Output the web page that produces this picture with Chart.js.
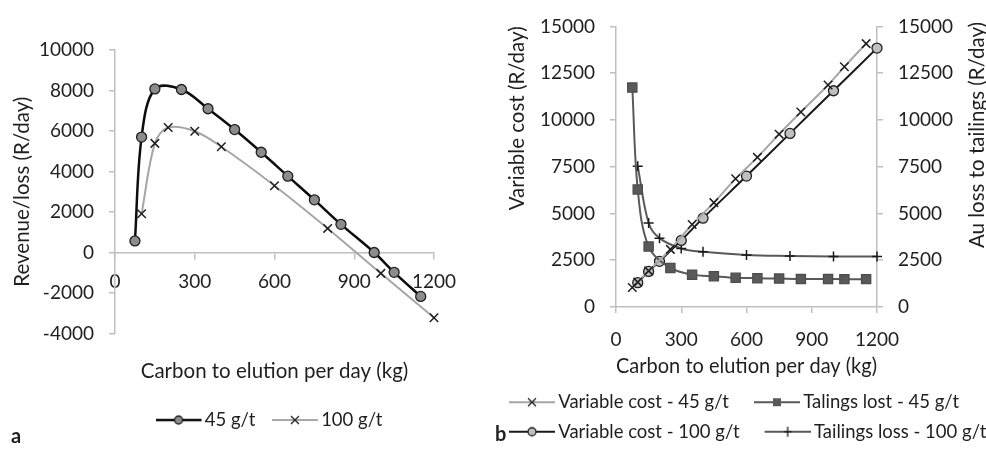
<!DOCTYPE html>
<html>
<head>
<meta charset="utf-8">
<script src="https://cdn.jsdelivr.net/npm/chart.js@4/dist/chart.umd.min.js"></script>
<style>
  body { margin: 0; width: 986px; height: 451px; overflow: hidden; background: #fff; position: relative; }
  canvas { position: absolute; top: 0; }
  #chartA { left: 0; }
  #chartB { left: 484px; }
  .panel { position: absolute; font: bold 20px Lato, sans-serif; color: #1f1f1f; }
</style>
</head>
<body>
<canvas id="chartA" width="480" height="451"></canvas>
<canvas id="chartB" width="560" height="451"></canvas>
<div class="panel" style="left:11px; top:423px">a</div>
<div class="panel" style="left:495px; top:421px">b</div>
<script>
// x values (kg carbon to elution per day)
const kg45 = [75, 100, 150, 250, 350, 450, 550, 650, 750, 850, 975, 1050, 1150];
const kg100 = [100, 150, 200, 300, 400, 600, 800, 1000, 1200];

// panel a - revenue/loss (R/day)
const revenue45 = [570, 5700, 8080, 8050, 7100, 6070, 4950, 3770, 2600, 1390, 0, -980, -2170];
const revenue100 = [1910, 5390, 6170, 5990, 5220, 3300, 1190, -1030, -3220];

// panel b - variable cost and tailings losses (R/day)
const varCost45 = [1040, 1330, 1930, 3080, 4410, 5580, 6860, 8000, 9240, 10420, 11870, 12840, 14080];
const tailings45 = [11730, 6280, 3230, 2090, 1730, 1640, 1560, 1540, 1520, 1500, 1500, 1490, 1490];
const varCost100 = [1300, 1900, 2440, 3560, 4750, 7000, 9280, 11560, 13840];
const tailings100 = [7520, 4490, 3680, 3130, 2950, 2780, 2730, 2700, 2700];

// tick labels
const xTicks = [0, 300, 600, 900, 1200];
const yTicksA = [-4000, -2000, 0, 2000, 4000, 6000, 8000, 10000];
const yTicksB = [0, 2500, 5000, 7500, 10000, 12500, 15000];

const ink = '#1f1f1f';
const axisGray = '#bfbfbf';
const titleFont = { size: 20.5, weight: 'normal' };
const legendFont = { size: 18.5 };
Chart.defaults.font.family = 'Lato';
Chart.defaults.font.size = 19;
Chart.defaults.color = ink;

function pts(xs, ys) {
    return xs.map((x, i) => ({ x: x, y: ys[i] }));
}

function useTicks(list) {
    return scale => { scale.ticks = list.map(v => ({ value: v })); };
}

// line + marker sample for the legend
function swatch(width, x0, s) {
    const c = document.createElement('canvas');
    c.width = width;
    c.height = 16;
    const ctx = c.getContext('2d');
    const cx = x0 + 23, cy = 8;
    ctx.strokeStyle = s.line;
    ctx.lineWidth = s.lineWidth;
    ctx.beginPath();
    ctx.moveTo(x0, cy);
    ctx.lineTo(x0 + 46, cy);
    ctx.stroke();
    ctx.fillStyle = s.fill;
    ctx.strokeStyle = s.marker;
    ctx.lineWidth = 1.3;
    ctx.beginPath();
    if (s.style === 'circle') {
        ctx.arc(cx, cy, 4, 0, Math.PI * 2);
        ctx.fill();
        ctx.stroke();
    } else if (s.style === 'rect') {
        ctx.fillStyle = s.marker;
        ctx.fillRect(cx - 4, cy - 4, 8, 8);
    } else if (s.style === 'crossRot') {
        ctx.moveTo(cx - 4, cy - 4); ctx.lineTo(cx + 4, cy + 4);
        ctx.moveTo(cx - 4, cy + 4); ctx.lineTo(cx + 4, cy - 4);
        ctx.stroke();
    } else {
        ctx.moveTo(cx - 4, cy); ctx.lineTo(cx + 4, cy);
        ctx.moveTo(cx, cy - 5); ctx.lineTo(cx, cy + 5);
        ctx.stroke();
    }
    return c;
}

function legendItems(width, x0) {
    return chart => chart.data.datasets.map((ds, i) => ({
        text: ds.label,
        datasetIndex: i,
        pointStyle: swatch(width, x0, ds.sample),
        fillStyle: 'rgba(0,0,0,0)',
        strokeStyle: 'rgba(0,0,0,0)',
        lineWidth: 0,
        fontColor: ink,
        hidden: false
    }));
}

const axisBase = {
    type: 'linear',
    grid: { drawOnChartArea: false, color: axisGray, lineWidth: 1.5, tickLength: 6 },
    border: { color: axisGray, width: 1.5 },
    ticks: { callback: v => String(v) }
};

function line(label, xs, ys, o) {
    return Object.assign({
        label: label,
        data: pts(xs, ys),
        tension: 0.35,
        clip: false,
        borderWidth: 2,
        pointBorderWidth: 1.3,
        pointRadius: 5,
        pointHoverRadius: 5
    }, o);
}

// ---------- panel a ----------
new Chart(document.getElementById('chartA'), {
    type: 'line',
    data: {
        datasets: [
            line('45 g/t', kg45, revenue45, {
                borderColor: '#0d0d0d', borderWidth: 2.5,
                pointStyle: 'circle', pointBackgroundColor: '#8c8c8c', pointBorderColor: ink,
                sample: { line: '#0d0d0d', lineWidth: 2.5, style: 'circle', fill: '#8c8c8c', marker: ink }
            }),
            line('100 g/t', kg100, revenue100, {
                borderColor: '#a6a6a6',
                pointStyle: 'crossRot', pointRadius: 6, pointBorderColor: ink, pointBorderWidth: 1.5,
                sample: { line: '#a6a6a6', lineWidth: 2, style: 'crossRot', fill: ink, marker: ink }
            })
        ]
    },
    options: {
        responsive: false,
        animation: false,
        devicePixelRatio: 1,
        layout: { padding: { left: 0, right: 46, top: 50, bottom: 11.7 } },
        scales: {
            x: Object.assign({}, axisBase, {
                position: { y: 0 },
                min: 0, max: 1200,
                afterBuildTicks: useTicks(xTicks),
                afterFit: s => { s.height = 0; },
                ticks: { padding: 12.4, callback: v => String(v) }
            }),
            y: Object.assign({}, axisBase, {
                min: -4000, max: 10000,
                afterBuildTicks: useTicks(yTicksA),
                afterFit: s => { s.width = 115; },
                ticks: { padding: 15, callback: v => String(v) },
                title: { display: true, text: 'Revenue/loss (R/day)', font: titleFont, padding: { top: 9.7, bottom: 0 } }
            })
        },
        plugins: {
            tooltip: { enabled: false },
            title: {
                display: true,
                text: 'Carbon to elution per day (kg)',
                position: 'bottom',
                fullSize: false,
                weight: 500,
                color: ink,
                font: titleFont,
                padding: { top: 25.2, bottom: 0 }
            },
            legend: {
                position: 'bottom',
                fullSize: false,
                labels: {
                    font: legendFont,
                    usePointStyle: true,
                    pointStyleWidth: 29,
                    padding: 27.5,
                    generateLabels: legendItems(51, 0)
                }
            }
        }
    }
});

// ---------- panel b ----------
const rightTitle = {
    id: 'rightTitle',
    afterDraw(chart) {
        const ctx = chart.ctx;
        const scale = chart.scales.y1;
        ctx.save();
        ctx.translate(scale.left + 100, 22);
        ctx.rotate(-Math.PI / 2);
        ctx.font = '20.5px Lato';
        ctx.fillStyle = ink;
        ctx.textAlign = 'right';
        ctx.textBaseline = 'middle';
        ctx.fillText('Au loss to tailings (R/day)', 0, 0);
        ctx.restore();
    }
};

new Chart(document.getElementById('chartB'), {
    type: 'line',
    data: {
        datasets: [
            line('Variable cost - 45 g/t', kg45, varCost45, {
                borderColor: '#a6a6a6',
                pointStyle: 'crossRot', pointRadius: 6, pointBorderColor: ink, pointBorderWidth: 1.5,
                sample: { line: '#a6a6a6', lineWidth: 2, style: 'crossRot', fill: ink, marker: ink }
            }),
            line('Talings lost - 45 g/t', kg45, tailings45, {
                yAxisID: 'y1',
                borderColor: '#595959',
                pointStyle: 'rect', pointRadius: 6.5, pointBackgroundColor: '#595959', pointBorderColor: '#4d4d4d',
                sample: { line: '#595959', lineWidth: 2, style: 'rect', fill: '#595959', marker: '#595959' }
            }),
            line('Variable cost - 100 g/t', kg100, varCost100, {
                borderColor: '#1a1a1a',
                pointStyle: 'circle', pointBackgroundColor: '#bfbfbf', pointBorderColor: ink,
                sample: { line: '#1a1a1a', lineWidth: 2, style: 'circle', fill: '#bfbfbf', marker: ink }
            }),
            line('Tailings loss - 100 g/t', kg100, tailings100, {
                yAxisID: 'y1',
                borderColor: '#595959',
                pointStyle: 'cross', pointRadius: 5, pointBorderColor: '#1a1a1a', pointBorderWidth: 1.5,
                sample: { line: '#595959', lineWidth: 2, style: 'cross', fill: ink, marker: '#1a1a1a' }
            })
        ]
    },
    options: {
        responsive: false,
        animation: false,
        devicePixelRatio: 1,
        layout: { padding: { left: 0, right: 0, top: 16.7, bottom: 0 } },
        scales: {
            x: Object.assign({}, axisBase, {
                position: 'bottom',
                min: 0, max: 1200,
                afterBuildTicks: useTicks(xTicks),
                afterFit: s => { s.height = 75; },
                ticks: { padding: 15.6, callback: v => String(v) },
                title: { display: true, text: 'Carbon to elution per day (kg)', font: titleFont, padding: { top: 0, bottom: 3.2 } }
            }),
            y: Object.assign({}, axisBase, {
                position: 'left',
                min: 0, max: 15000,
                afterBuildTicks: useTicks(yTicksB),
                afterFit: s => { s.width = 132; },
                ticks: { padding: 15, callback: v => String(v) },
                title: { display: true, text: 'Variable cost (R/day)', align: 'end', font: titleFont, padding: { top: 20.7, bottom: 0 } }
            }),
            y1: Object.assign({}, axisBase, {
                position: 'right',
                min: 0, max: 15000,
                afterBuildTicks: useTicks(yTicksB),
                afterFit: s => { s.width = 167; },
                ticks: { padding: 15, callback: v => String(v) }
            })
        },
        plugins: {
            tooltip: { enabled: false },
            legend: {
                position: 'bottom',
                align: 'start',
                labels: {
                    font: legendFont,
                    usePointStyle: true,
                    pointStyleWidth: 54,
                    padding: 11,
                    generateLabels: legendItems(66, 20)
                }
            }
        }
    },
    plugins: [rightTitle]
});
</script>
</body>
</html>
